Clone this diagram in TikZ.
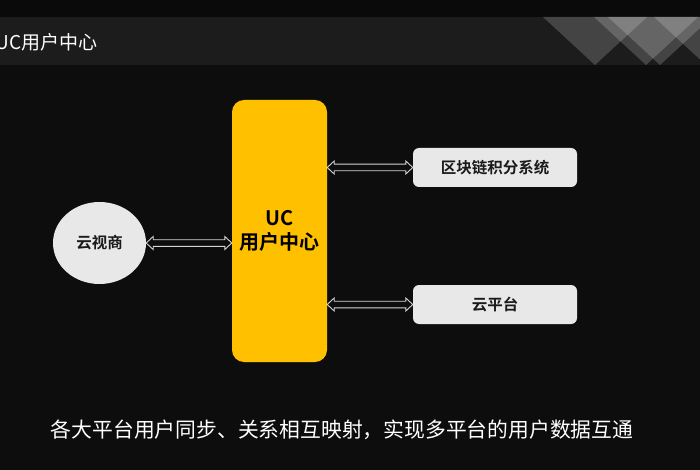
\documentclass[tikz,border=0pt]{standalone}
\usepackage{fontspec}
\setmainfont{Noto Sans CJK SC}[BoldFont={Noto Sans CJK SC Bold}]
\usetikzlibrary{calc,shapes.geometric}
\definecolor{bgc}{HTML}{0D0D0D}
\definecolor{topc}{HTML}{0A0A0A}
\definecolor{bandc}{HTML}{1C1C1C}
\definecolor{ucyellow}{HTML}{FFC000}
\definecolor{boxgrey}{HTML}{E8E8E8}
\definecolor{arrowline}{HTML}{D6D6D6}
\definecolor{txtdark}{HTML}{1A1A1A}
\tikzset{
  tri/.style={fill=white, fill opacity=0.18, draw=none},
  ucbox/.style={fill=ucyellow, draw=none, rounded corners=12pt, minimum width=95pt, minimum height=262pt, align=center, text=black, font=\bfseries\fontsize{20}{25}\selectfont},
  sidebox/.style={fill=boxgrey, draw=none, rounded corners=6pt, minimum width=164pt, minimum height=39pt, text=txtdark, font=\bfseries\fontsize{15.5}{18}\selectfont},
  cloudell/.style={ellipse, fill=boxgrey, draw=none, minimum width=93pt, minimum height=82pt, inner sep=0pt, text=txtdark, font=\bfseries\fontsize{15.5}{18}\selectfont},
  dblarrow/.style={draw=arrowline, fill=bgc, line width=0.9pt, line join=miter},
}
\newcommand{\hdarrow}[2]{%
  \draw[dblarrow] let \p1=#1, \p2=#2 in
    (\x1,\y1) -- (\x1+7pt,\y1+6.5pt) -- (\x1+7pt,\y1+3.3pt) -- (\x2-7pt,\y1+3.3pt) -- (\x2-7pt,\y1+6.5pt)
    -- (\x2,\y1) -- (\x2-7pt,\y1-6.5pt) -- (\x2-7pt,\y1-3.3pt) -- (\x1+7pt,\y1-3.3pt) -- (\x1+7pt,\y1-6.5pt) -- cycle;}
\begin{document}
\begin{tikzpicture}[x=1pt,y=-1pt]
\useasboundingbox (0,0) rectangle (700,470);
\fill[bgc] (0,0) rectangle (700,470);
\fill[topc] (0,0) rectangle (700,17);
\fill[bandc] (0,17) rectangle (700,65);
% decorative triangles
\begin{scope}
\clip (0,17) rectangle (700,65);
\foreach \ax in {595,646,660,706} {
  \fill[tri] (\ax-52,17) -- (\ax+52,17) -- (\ax,65) -- cycle;
}
\end{scope}
\begin{scope}
\clip (0,0) rectangle (700,470);
\node[anchor=east, text=white, font=\fontsize{19}{22}\selectfont, inner sep=0pt] (title) at (98,42) {UC用户中心};
\end{scope}

\node[ucbox] (uc) at (279.5,231) {UC\\[-1pt]用户中心};
\node[cloudell] (yun) at (99.5,243) {云视商};
\node[sidebox] (chain) at (495,167.5) {区块链积分系统};
\node[sidebox] (plat) at (495,304.5) {云平台};

\hdarrow{(yun.east)}{(yun.east -| uc.west)}
\hdarrow{(chain.west -| uc.east)}{(chain.west)}
\hdarrow{(plat.west -| uc.east)}{(plat.west)}

\node[text=white, font=\fontsize{20.8}{24}\selectfont, inner sep=0pt] (caption) at (342,430) {各大平台用户同步、关系相互映射，实现多平台的用户数据互通};
\end{tikzpicture}
\end{document}
